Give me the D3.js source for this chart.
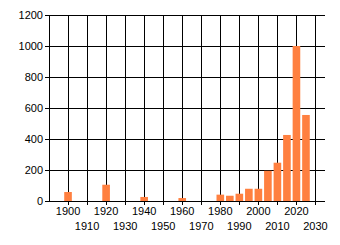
<!DOCTYPE html>
<html>
<head>
<meta charset="utf-8">
<script src="https://cdn.jsdelivr.net/npm/d3@7"></script>
<style>
  body { margin: 0; background: #fff; }
  text { font-family: "Liberation Sans", Arial, sans-serif; font-size: 11px; fill: #000; }
</style>
</head>
<body>
<div id="viz"></div>
<script>
// bar data: year of the bar and its height
const years = [1900, 1920, 1940, 1960, 1980, 1985, 1990, 1995, 2000, 2005, 2010, 2015, 2020, 2025];
const counts = [58, 105, 26, 19, 41, 34, 47, 79, 79, 195, 247, 426, 1000, 555];

// axis ticks
const xTicks = [1900, 1910, 1920, 1930, 1940, 1950, 1960, 1970, 1980, 1990, 2000, 2010, 2020, 2030];
const yTicks = [0, 200, 400, 600, 800, 1000, 1200];

const width = 340, height = 245;

const svg = d3.select("#viz")
    .append("svg")
    .attr("width", width)
    .attr("height", height);

// scales: year axis runs a bit past the last tick, like the original
const xScale = d3.scaleLinear()
    .domain([1890, 2035])
    .range([49, 325]);

const yScale = d3.scaleLinear()
    .domain([0, 1200])
    .range([201, 15]);

const px = v => Math.round(v) + 0.5;

// horizontal gridlines + small ticks on the left
svg.append("g")
    .selectAll("line")
    .data(yTicks)
    .join("line")
    .attr("x1", 45)
    .attr("x2", 325)
    .attr("y1", d => px(yScale(d)))
    .attr("y2", d => px(yScale(d)))
    .attr("stroke", "#000")
    .attr("stroke-width", 1);

// vertical gridlines, running a few px below the axis as ticks
svg.append("g")
    .selectAll("line")
    .data(xTicks)
    .join("line")
    .attr("x1", d => px(xScale(d)))
    .attr("x2", d => px(xScale(d)))
    .attr("y1", px(yScale(1200)))
    .attr("y2", 205)
    .attr("stroke", "#000")
    .attr("stroke-width", 1);

// y axis line
svg.append("line")
    .attr("x1", px(49)).attr("x2", px(49))
    .attr("y1", px(yScale(1200))).attr("y2", px(yScale(0)))
    .attr("stroke", "#000");

// bars, 4 years wide
svg.append("g")
    .selectAll("rect")
    .data(years.map((y, i) => ({ year: y, value: counts[i] })))
    .join("rect")
    .attr("x", d => xScale(d.year - 2))
    .attr("width", d => xScale(d.year + 2) - xScale(d.year - 2))
    .attr("y", d => yScale(d.value))
    .attr("height", d => yScale(0) - yScale(d.value))
    .attr("fill", "#ff8040");

// redraw the x axis line on top of the bars
svg.append("line")
    .attr("x1", 45).attr("x2", 325)
    .attr("y1", px(yScale(0))).attr("y2", px(yScale(0)))
    .attr("stroke", "#000");

// y labels
svg.append("g")
    .selectAll("text")
    .data(yTicks)
    .join("text")
    .attr("x", 43)
    .attr("y", d => yScale(d))
    .attr("dy", "0.35em")
    .attr("text-anchor", "end")
    .text(d => d);

// x labels on two staggered rows
svg.append("g")
    .selectAll("text")
    .data(xTicks)
    .join("text")
    .attr("x", d => xScale(d))
    .attr("y", (d, i) => i % 2 === 0 ? 215 : 230)
    .attr("text-anchor", "middle")
    .text(d => d);
</script>
</body>
</html>
